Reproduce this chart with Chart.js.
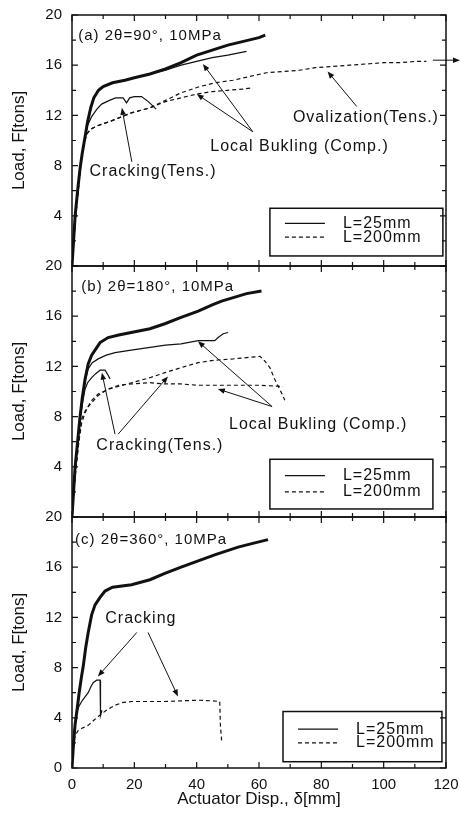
<!DOCTYPE html>
<html>
<head>
<meta charset="utf-8">
<script src="https://cdn.jsdelivr.net/npm/chart.js@4.4.1/dist/chart.umd.min.js"></script>
<style>
  html, body { margin: 0; padding: 0; background: #fff; }
  #wrap { width: 460px; height: 817px; }
</style>
</head>
<body>
<div id="wrap"><canvas id="chart" width="460" height="817"></canvas></div>
<script>
// x = actuator displacement [mm], y = load [tons]
const xTicks = [0, 20, 40, 60, 80, 100, 120];
const yTicks = [0, 4, 8, 12, 16, 20];

// panel (a) 2θ=90°
const aThick = [[0,0],[0.5,2],[1,4],[1.8,6],[2.6,7.8],[3.3,9],[4.2,10.3],[5,11.5],[6,12.6],[7,13.4],[8.5,14],[10,14.3],[13,14.6],[17,14.8],[20,15],[25,15.3],[30,15.7],[35,16.2],[40,16.8],[45,17.2],[50,17.6],[55,17.9],[60,18.2],[62,18.4]];
const aBuckle25 = [[0,0],[0.5,2],[1,4],[1.8,6],[2.6,7.8],[3.3,9],[4.2,10.3],[5,11.5],[6,12.6],[7,13.4],[8.5,14],[10,14.3],[13,14.6],[17,14.8],[20,15],[25,15.3],[30,15.6],[35,16],[40,16.3],[45,16.6],[50,16.8],[56,17.1]];
const aCrack25 = [[0,0],[0.5,2],[1,4],[1.8,6],[2.6,7.8],[3.3,9],[4.2,10.3],[5,11.2],[6.3,11.9],[8,12.5],[9.5,12.9],[12,13.2],[14,13.4],[16.4,13.4],[17.5,13],[18.5,13.4],[20,13.5],[22.3,13.5],[24.5,13.1],[27,12.5]];
const aBuckle200 = [[0,0],[0.6,2],[1.2,4],[2,6],[2.8,8],[3.6,9.5],[4.7,10.5],[6,10.9],[8.4,11.2],[12,11.5],[15,11.8],[19,12.2],[25,12.6],[30,13.1],[35,13.4],[40,13.7],[45,13.9],[50,14],[55,14.1],[58,14.2]];
const aOval200 = [[0,0],[0.6,2],[1.2,4],[2,6],[2.8,8],[3.6,9.5],[4.7,10.5],[6,10.9],[8.4,11.2],[12,11.5],[15,11.8],[19,12.2],[25,12.6],[30,13.2],[35,13.8],[41,14.3],[46,14.6],[51.7,14.8],[57,15.1],[62.4,15.4],[68,15.5],[73,15.6],[78,15.8],[83.7,15.9],[89,16],[94.4,16.1],[100,16.2],[105,16.2],[110,16.3],[113.7,16.3]];

// panel (b) 2θ=180°
const bThick = [[0,0],[0.5,2],[1,4],[1.8,6],[2.5,7.8],[3.3,9.5],[4.2,11],[5.2,12.2],[6.3,12.9],[7.4,13.3],[9,13.9],[11.6,14.3],[15,14.5],[19,14.7],[25,15],[29.8,15.4],[35,15.9],[40.5,16.4],[45,16.9],[48,17.2],[52,17.5],[56,17.8],[60.8,18]];
const bBuckle25 = [[0,0],[0.5,2],[1,4],[1.8,6],[2.6,8],[3.3,9.5],[4.2,10.8],[5.2,11.8],[6.5,12.3],[8.4,12.6],[11,12.9],[13.8,13.1],[19,13.3],[24.5,13.5],[30,13.7],[35,13.8],[40.5,14.05],[45.8,14.05],[46.9,14.3],[48.5,14.6],[50.1,14.7]];
const bCrack25 = [[0,0],[0.5,2],[1,4],[1.8,6],[2.6,7.8],[3.3,9],[4.2,10.2],[5,10.7],[6.3,11.1],[7.5,11.4],[9,11.7],[10.6,11.7],[11.6,11.3],[12.2,11]];
const bUpper200 = [[0,0],[0.6,2],[1.3,4],[2.2,6],[3.1,7.5],[4.2,8.3],[6,9.2],[8.4,9.8],[12,10.2],[19.1,10.7],[25,11.1],[29.8,11.5],[35,11.9],[40.5,12.3],[46,12.5],[51.7,12.6],[56,12.7],[60.3,12.8],[61.3,12.6],[63.5,11.9],[65,11],[67.2,9.9],[68.3,9.3]];
const bLower200 = [[0,0],[0.6,2],[1.3,4],[2.2,6],[3.1,7.8],[4.5,8.6],[6.3,9.1],[8.5,9.7],[11.6,10.2],[15,10.5],[19.1,10.6],[25,10.7],[29.8,10.6],[35,10.6],[40.5,10.5],[50,10.5],[60,10.5],[67.7,10.4]];

// panel (c) 2θ=360°
const cThick = [[0,0],[0.5,2],[1,3.5],[1.5,4.4],[2.3,6],[3,7.2],[3.6,8.1],[4.4,9.6],[5.2,10.8],[6.3,12.2],[7.4,13],[9,13.6],[10.6,14.1],[13,14.4],[19.1,14.6],[25,15],[29.8,15.5],[35,16],[40.5,16.5],[46,17],[53.3,17.6],[58,17.9],[62.9,18.2]];
const cCrack25 = [[0,0],[0.5,2],[1,3.5],[1.5,4.4],[2.2,4.9],[3.1,5.3],[4,5.6],[5.2,6],[6.1,6.5],[6.8,6.8],[7.9,7],[9,7],[9,4.5],[9.3,4.2],[9.6,4.6]];
const cCrack200 = [[0,0],[0.5,1.8],[1,2.6],[2,3],[3.5,3.2],[5.2,3.4],[7,3.8],[8.4,4.1],[11,4.6],[13.8,5],[16,5.2],[19.1,5.3],[25,5.3],[29.8,5.3],[35,5.35],[40.5,5.4],[45,5.35],[47.4,5.3],[47.6,3.5],[48,2.2]];

const FONT = '"Liberation Sans", Arial, sans-serif';
const INK = '#111';

const styles = {
  thick: { borderWidth: 3, borderDash: [] },
  thin: { borderWidth: 1.2, borderDash: [] },
  dash: { borderWidth: 1.2, borderDash: [4, 3] }
};

function series(points, axis, style) {
  return {
    data: points.map(([x, y]) => ({ x, y })),
    yAxisID: axis,
    showLine: true,
    pointRadius: 0,
    borderColor: INK,
    tension: 0,
    fill: false,
    ...styles[style]
  };
}

// notes per panel, in data coordinates
const panels = [
  {
    axis: 'ya', title: '(a) 2\u03b8=90\u00b0, 10MPa', titleAt: [2, 18.3],
    labels: [
      { text: 'Cracking(Tens.)', at: [26, 7.5] },
      { text: 'Local Bukling (Comp.)', at: [73, 9.5] },
      { text: 'Ovalization(Tens.)', at: [94.3, 11.8] }
    ],
    arrows: [
      [[19.2, 8.3], [16, 12.6]],
      [[58, 10.7], [42, 16.1]],
      [[58, 10.7], [40, 13.7]],
      [[91.4, 12.7], [82, 15.5]],
      [[115.8, 16.4], [124.5, 16.4]]
    ],
    legend: { box: [63.5, 119, 4.6, 0.8], rows: [3.4, 2.3] }
  },
  {
    axis: 'yb', title: '(b) 2\u03b8=180\u00b0, 10MPa', titleAt: [3, 18.3],
    labels: [
      { text: 'Local Bukling (Comp.)', at: [79, 7.4] },
      { text: 'Cracking(Tens.)', at: [28.2, 5.7] }
    ],
    arrows: [
      [[64.2, 8.8], [40.4, 14.0]],
      [[64.2, 8.8], [46.8, 10.2]],
      [[13.8, 6.6], [9.6, 11.5]],
      [[14.8, 6.6], [30.8, 11.2]]
    ],
    legend: { box: [63.5, 115.8, 4.6, 0.64], rows: [3.3, 2.0] }
  },
  {
    axis: 'yc', title: '(c) 2\u03b8=360\u00b0, 10MPa', titleAt: [1, 18.2],
    labels: [
      { text: 'Cracking', at: [22.1, 11.9] }
    ],
    arrows: [
      [[20.8, 10.8], [8.3, 7.3]],
      [[24.4, 10.8], [34, 5.7]]
    ],
    legend: { box: [67.7, 118.7, 4.5, 0.5], rows: [3.1, 2.0] }
  }
];

function arrow(ctx, x1, y1, x2, y2) {
  const ang = Math.atan2(y2 - y1, x2 - x1);
  const len = 7, half = 2.8;
  ctx.beginPath();
  ctx.moveTo(x1, y1);
  ctx.lineTo(x2 - Math.cos(ang) * len * 0.6, y2 - Math.sin(ang) * len * 0.6);
  ctx.stroke();
  ctx.beginPath();
  ctx.moveTo(x2, y2);
  ctx.lineTo(x2 - Math.cos(ang) * len + Math.sin(ang) * half, y2 - Math.sin(ang) * len - Math.cos(ang) * half);
  ctx.lineTo(x2 - Math.cos(ang) * len - Math.sin(ang) * half, y2 - Math.sin(ang) * len + Math.cos(ang) * half);
  ctx.closePath();
  ctx.fill();
}

const framePlugin = {
  id: 'frameAndNotes',
  afterDraw(chart) {
    const ctx = chart.ctx;
    const xs = chart.scales.x;
    const area = chart.chartArea;
    ctx.save();
    ctx.strokeStyle = INK;
    ctx.fillStyle = INK;

    panels.forEach(p => {
      const ys = chart.scales[p.axis];
      const top = ys.top, bottom = ys.bottom;

      // frame
      ctx.lineWidth = 1.5;
      ctx.setLineDash([]);
      ctx.strokeRect(area.left, top, area.right - area.left, bottom - top);

      // inward ticks
      ctx.lineWidth = 1.2;
      ctx.beginPath();
      for (let v = 0; v <= 120; v += 10) {
        const px = xs.getPixelForValue(v);
        const l = v % 20 === 0 ? 6 : 4;
        ctx.moveTo(px, top); ctx.lineTo(px, top + l);
        ctx.moveTo(px, bottom); ctx.lineTo(px, bottom - l);
      }
      for (let v = 0; v <= 20; v += 2) {
        const py = ys.getPixelForValue(v);
        const l = v % 4 === 0 ? 6 : 4;
        ctx.moveTo(area.left, py); ctx.lineTo(area.left + l, py);
        ctx.moveTo(area.right, py); ctx.lineTo(area.right - l, py);
      }
      ctx.stroke();

      // text notes
      ctx.letterSpacing = '1px';
      ctx.textBaseline = 'middle';
      ctx.font = '15px ' + FONT;
      ctx.textAlign = 'left';
      ctx.fillText(p.title, xs.getPixelForValue(p.titleAt[0]), ys.getPixelForValue(p.titleAt[1]));
      ctx.font = '16px ' + FONT;
      ctx.textAlign = 'center';
      p.labels.forEach(l => {
        ctx.fillText(l.text, xs.getPixelForValue(l.at[0]), ys.getPixelForValue(l.at[1]));
      });

      // arrows
      ctx.lineWidth = 1;
      p.arrows.forEach(([a, b]) => {
        arrow(ctx, xs.getPixelForValue(a[0]), ys.getPixelForValue(a[1]),
          xs.getPixelForValue(b[0]), ys.getPixelForValue(b[1]));
      });

      // legend box
      const [x0, x1, y0, y1] = p.legend.box;
      const bx = xs.getPixelForValue(x0), bx2 = xs.getPixelForValue(x1);
      const by = ys.getPixelForValue(y0), by2 = ys.getPixelForValue(y1);
      ctx.lineWidth = 1.5;
      ctx.strokeRect(bx, by, bx2 - bx, by2 - by);
      const names = ['L=25mm', 'L=200mm'];
      ctx.textAlign = 'left';
      ctx.font = '16px ' + FONT;
      p.legend.rows.forEach((r, i) => {
        const py = ys.getPixelForValue(r);
        ctx.lineWidth = 1.2;
        ctx.setLineDash(i === 0 ? [] : [4, 3]);
        ctx.beginPath();
        ctx.moveTo(bx + 15, py);
        ctx.lineTo(bx + 55, py);
        ctx.stroke();
        ctx.setLineDash([]);
        ctx.fillText(names[i], bx + 73, py);
      });
    });
    ctx.restore();
  }
};

function yAxis(hideZero) {
  return {
    type: 'linear',
    position: 'left',
    stack: 'load',
    stackWeight: 1,
    min: 0,
    max: 20,
    afterBuildTicks: s => { s.ticks = yTicks.map(v => ({ value: v })); },
    afterFit: s => { s.width = 67; s.paddingTop = 0; s.paddingBottom = 0; },
    grid: { display: false, drawTicks: false },
    border: { display: false },
    ticks: {
      color: INK,
      padding: 10,
      font: { family: FONT, size: 15 },
      callback: v => (hideZero && v === 0 ? '' : v)
    },
    title: {
      display: true,
      text: 'Load, F[tons]',
      color: INK,
      font: { family: FONT, size: 17 },
      padding: { top: 4, bottom: 4 }
    }
  };
}

new Chart(document.getElementById('chart'), {
  type: 'scatter',
  data: {
    datasets: [
      series(aOval200, 'ya', 'dash'),
      series(aBuckle200, 'ya', 'dash'),
      series(aCrack25, 'ya', 'thin'),
      series(aBuckle25, 'ya', 'thin'),
      series(aThick, 'ya', 'thick'),
      series(bUpper200, 'yb', 'dash'),
      series(bLower200, 'yb', 'dash'),
      series(bCrack25, 'yb', 'thin'),
      series(bBuckle25, 'yb', 'thin'),
      series(bThick, 'yb', 'thick'),
      series(cCrack200, 'yc', 'dash'),
      series(cCrack25, 'yc', 'thin'),
      series(cThick, 'yc', 'thick')
    ]
  },
  options: {
    responsive: false,
    animation: false,
    layout: { padding: { left: 5, top: 15, right: 14, bottom: 5 } },
    plugins: { legend: { display: false }, tooltip: { enabled: false } },
    scales: {
      x: {
        type: 'linear',
        min: 0,
        max: 120,
        afterBuildTicks: s => { s.ticks = xTicks.map(v => ({ value: v })); },
        afterFit: s => { s.height = 44; s.paddingLeft = 0; s.paddingRight = 0; },
        grid: { display: false, drawTicks: false },
        border: { display: false },
        ticks: { color: INK, padding: 8, maxRotation: 0, font: { family: FONT, size: 15 } },
        title: {
          display: true,
          text: 'Actuator Disp., \u03b4[mm]',
          color: INK,
          font: { family: FONT, size: 17 },
          padding: { top: 2, bottom: 2 }
        }
      },
      // left-side stacked axes are laid out in reverse order: last one ends up on top
      yc: yAxis(false),
      yb: yAxis(true),
      ya: yAxis(true)
    }
  },
  plugins: [framePlugin]
});
</script>
</body>
</html>
